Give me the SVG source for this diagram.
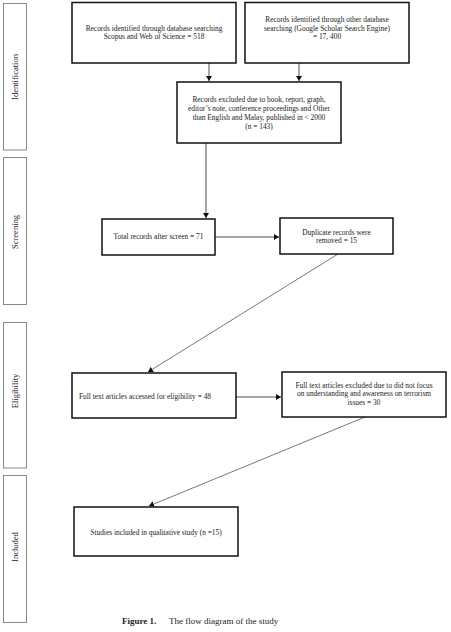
<svg xmlns="http://www.w3.org/2000/svg" width="451" height="632" viewBox="0 0 451 632">
<style>
.box{fill:#fff;stroke:#111;stroke-width:1.5}
.side{fill:#fff;stroke:#888;stroke-width:1}
.t{font-family:"Liberation Serif","Times New Roman",serif;font-size:7.4px;fill:#222;text-anchor:middle}
.tl{font-family:"Liberation Serif","Times New Roman",serif;font-size:7.4px;fill:#222}
.s{font-family:"Liberation Serif","Times New Roman",serif;font-size:8.5px;fill:#222;text-anchor:middle}
.c{stroke:#222;stroke-width:0.8;fill:none}
.d{stroke:#777;stroke-width:1;fill:none}
.cap{font-family:"Liberation Serif","Times New Roman",serif;font-size:9px;fill:#222}
</style>
<defs>
<marker id="ah" markerWidth="6" markerHeight="6" refX="5" refY="3" orient="auto" markerUnits="userSpaceOnUse">
<path d="M0,0 L5,3 L0,6 Z" fill="#111"/>
</marker>
</defs>
<rect width="451" height="632" fill="#fff"/>
<g id="stage-identification"><rect class="side" x="3.5" y="3.5" width="23" height="146.5"/><text class="s" transform="translate(18,77) rotate(-90)">Identification</text></g>
<g id="stage-screening"><rect class="side" x="3.5" y="157.5" width="23" height="147"/><text class="s" transform="translate(18,232) rotate(-90)">Screening</text></g>
<g id="stage-eligibility"><rect class="side" x="3.5" y="322.5" width="23" height="145.5"/><text class="s" transform="translate(18,391) rotate(-90)">Eligibility</text></g>
<g id="stage-included"><rect class="side" x="3.5" y="475.5" width="23" height="147"/><text class="s" transform="translate(18,547) rotate(-90)">Included</text></g>
<g id="connectors">
<line class="c" x1="209" y1="63" x2="209" y2="81" marker-end="url(#ah)"/>
<line class="c" x1="299" y1="63" x2="299" y2="81" marker-end="url(#ah)"/>
<line class="c" x1="206" y1="143" x2="206" y2="218" marker-end="url(#ah)"/>
<line class="c" x1="215" y1="237" x2="279" y2="237" marker-end="url(#ah)"/>
<line class="d" x1="338" y1="254" x2="148" y2="372" marker-end="url(#ah)"/>
<line class="c" x1="236" y1="397" x2="281" y2="397" marker-end="url(#ah)"/>
<line class="d" x1="365" y1="417" x2="149" y2="506" marker-end="url(#ah)"/>
</g>
<g id="n1"><rect class="box" x="72" y="2.5" width="164" height="60.5"/><text class="t" x="154" y="31">Records identified through database searching</text><text class="t" x="154" y="39">Scopus and Web of Science = 518</text></g>
<g id="n2"><rect class="box" x="245" y="2.5" width="164" height="60.5"/><text class="t" x="327" y="22">Records identified through other database</text><text class="t" x="327" y="31">searching (Google Scholar Search Engine)</text><text class="t" x="327" y="39">= 17, 400</text></g>
<g id="n3"><rect class="box" x="177" y="82" width="164" height="61"/><text class="t" x="259" y="102">Records excluded due to book, report, graph,</text><text class="t" x="259" y="111">editor’s note, conference proceedings and Other</text><text class="t" x="259" y="120">than English and Malay, published in &lt; 2000</text><text class="t" x="259" y="129">(n = 143)</text></g>
<g id="n4"><rect class="box" x="102" y="219" width="113" height="36"/><text class="t" x="158.5" y="239">Total records after screen = 71</text></g>
<g id="n5"><rect class="box" x="280" y="218" width="113" height="36"/><text class="t" x="336.5" y="235">Duplicate records were</text><text class="t" x="336.5" y="243">removed = 15</text></g>
<g id="n6"><rect class="box" x="72" y="373" width="164" height="45"/><text class="tl" x="79" y="399">Full text articles accessed for eligibility = 48</text></g>
<g id="n7"><rect class="box" x="282" y="372" width="164" height="45"/><text class="t" x="364" y="388">Full text articles excluded due to did not focus</text><text class="t" x="364" y="396">on understanding and awareness on terrorism</text><text class="t" x="364" y="405">issues = 30</text></g>
<g id="n8"><rect class="box" x="74" y="507" width="164" height="49"/><text class="t" x="156" y="535">Studies included in qualitative study (n =15)</text></g>
<g id="caption"><text class="cap" x="122" y="624"><tspan font-weight="bold">Figure 1.</tspan><tspan x="169">The flow diagram of the study</tspan></text></g>
</svg>
